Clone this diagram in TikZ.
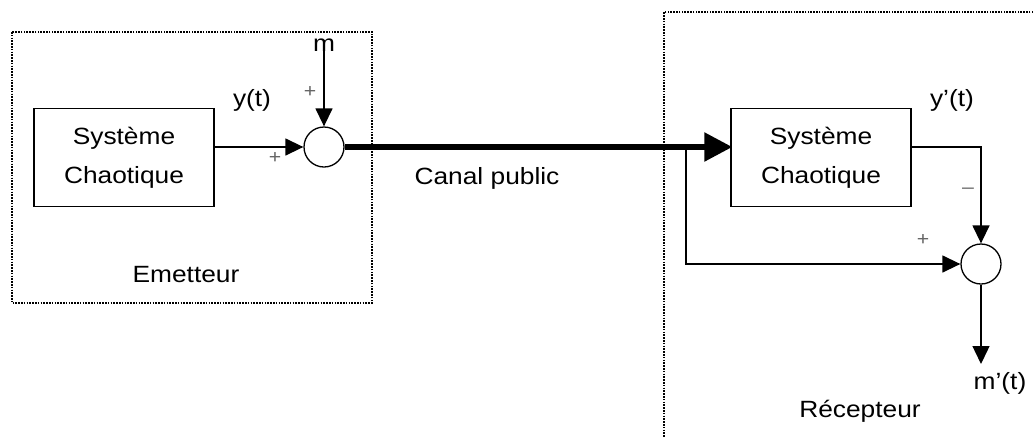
\documentclass[tikz,border=0pt]{standalone}
\usepackage{fontspec}
\setmainfont{Liberation Sans}[FakeStretch=1.12]
\usetikzlibrary{arrows.meta}
\begin{document}
\begin{tikzpicture}[x=1pt,y=-1pt,
  lbl/.style={font=\fontsize{23.5}{28}\selectfont, inner sep=0pt},
  sgn/.style={font=\fontsize{19}{20}\selectfont, text=black!60, inner sep=0pt},
  blockbox/.style={draw, line width=1.4pt, minimum width=180pt, minimum height=98pt,
    align=center, font=\fontsize{23.5}{39}\selectfont},
  sumnode/.style={draw, circle, line width=1.3pt, minimum size=40pt, inner sep=0pt},
  sig/.style={line width=1.4pt, -{Triangle[length=18pt,width=17pt]}},
  channel/.style={line width=5.5pt, -{Triangle[length=28pt,width=28pt]}, shorten >=-2pt},
  frame/.style={line width=1.6pt, dash pattern=on 1.6pt off 1.2pt}]
\useasboundingbox (0,0) rectangle (1034,437);

% dotted frames of the two stations
\draw[frame] (12,32) rectangle (372,303);
\draw[frame] (1036,12) -- (664,12) -- (664,440);

% transmitter
\node[blockbox] (blk1) at (124,157.5) {Système\\Chaotique};
\node[sumnode] (sum1) at (324,147) {};
\node[lbl] (m) at (324,45) {m};
\coordinate (mtop) at (324,40);
\node[lbl] (yt) at (252,100) {y(t)};
\node[sgn] (p1) at (310,92) {+};
\node[sgn] (p2) at (275,158) {+};
\node[lbl] (em) at (186,275) {Emetteur};

\draw[sig] (mtop) -- (sum1.north);
\draw[sig] (sum1.west -| blk1.east) -- (sum1.west);

% receiver
\node[blockbox] (blk2) at (821,157.5) {Système\\Chaotique};
\node[sumnode] (sum2) at (981,264) {};
\node[lbl] (yp) at (952,100) {y’(t)};
\node[sgn] (mi) at (968,191) {–};
\node[sgn] (p3) at (923,240) {+};
\node[lbl] (mp) at (1000,383) {m’(t)};
\node[lbl] (rc) at (860,411) {Récepteur};
\node[lbl] (cp) at (487,178) {Canal public};
\coordinate (out) at (981,364);
\coordinate (br) at (686,149);

% public channel
\draw[channel] (sum1.east) -- (sum1.east -| blk2.west);

\draw[sig] (sum1.east -| blk2.east) -| (sum2.north);
\draw[sig] (br) |- (sum2.west);
\draw[sig] (sum2.south) -- (out);
\end{tikzpicture}
\end{document}
